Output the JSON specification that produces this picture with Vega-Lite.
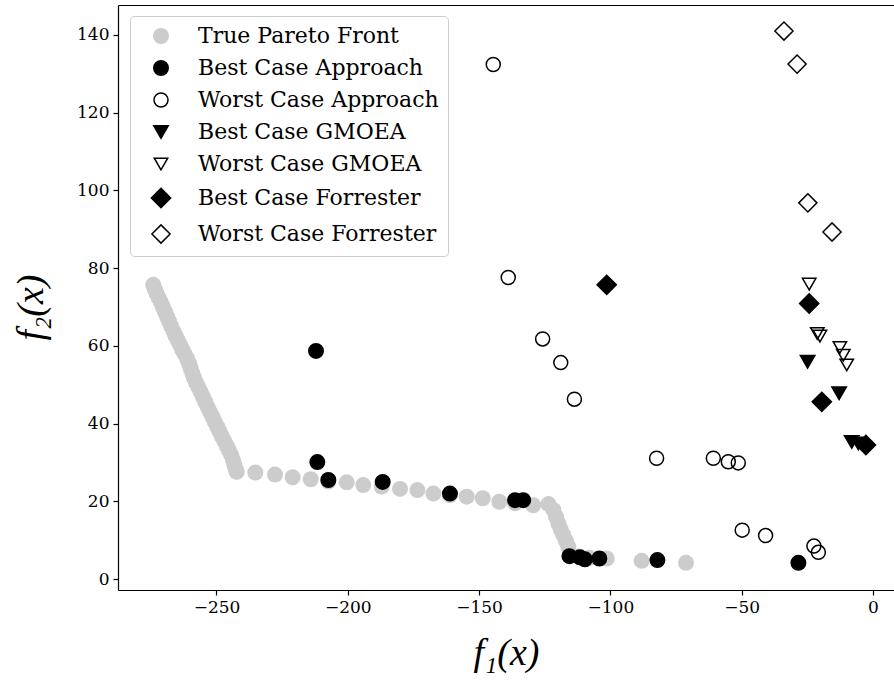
{
  "$schema": "https://vega.github.io/schema/vega-lite/v6.json",
  "width": 776,
  "height": 585,
  "autosize": {"type": "none"},
  "padding": {"left": 118, "top": 5, "right": 0, "bottom": 93},
  "background": "white",
  "config": {"view": {"stroke": null}},
  "datasets": {
    "pts": [
      {"series": "True Pareto Front", "f1": -274.1, "f2": 75.7},
      {"series": "True Pareto Front", "f1": -273.5, "f2": 74.6},
      {"series": "True Pareto Front", "f1": -272.8, "f2": 73.5},
      {"series": "True Pareto Front", "f1": -272.0, "f2": 72.3},
      {"series": "True Pareto Front", "f1": -271.2, "f2": 71.2},
      {"series": "True Pareto Front", "f1": -270.4, "f2": 70.0},
      {"series": "True Pareto Front", "f1": -269.6, "f2": 68.8},
      {"series": "True Pareto Front", "f1": -268.8, "f2": 67.5},
      {"series": "True Pareto Front", "f1": -268.0, "f2": 66.3},
      {"series": "True Pareto Front", "f1": -267.2, "f2": 65.0},
      {"series": "True Pareto Front", "f1": -266.4, "f2": 63.8},
      {"series": "True Pareto Front", "f1": -265.6, "f2": 62.6},
      {"series": "True Pareto Front", "f1": -264.7, "f2": 61.4},
      {"series": "True Pareto Front", "f1": -263.8, "f2": 60.2},
      {"series": "True Pareto Front", "f1": -263.0, "f2": 59.0},
      {"series": "True Pareto Front", "f1": -262.1, "f2": 57.9},
      {"series": "True Pareto Front", "f1": -261.2, "f2": 56.7},
      {"series": "True Pareto Front", "f1": -260.4, "f2": 55.5},
      {"series": "True Pareto Front", "f1": -259.8, "f2": 54.2},
      {"series": "True Pareto Front", "f1": -259.2, "f2": 53.0},
      {"series": "True Pareto Front", "f1": -258.6, "f2": 51.8},
      {"series": "True Pareto Front", "f1": -257.8, "f2": 50.6},
      {"series": "True Pareto Front", "f1": -256.9, "f2": 49.4},
      {"series": "True Pareto Front", "f1": -256.0, "f2": 48.1},
      {"series": "True Pareto Front", "f1": -255.1, "f2": 46.8},
      {"series": "True Pareto Front", "f1": -254.2, "f2": 45.5},
      {"series": "True Pareto Front", "f1": -253.3, "f2": 44.2},
      {"series": "True Pareto Front", "f1": -252.4, "f2": 42.9},
      {"series": "True Pareto Front", "f1": -251.5, "f2": 41.7},
      {"series": "True Pareto Front", "f1": -250.6, "f2": 40.4},
      {"series": "True Pareto Front", "f1": -249.7, "f2": 39.2},
      {"series": "True Pareto Front", "f1": -248.8, "f2": 38.0},
      {"series": "True Pareto Front", "f1": -247.9, "f2": 36.7},
      {"series": "True Pareto Front", "f1": -247.0, "f2": 35.5},
      {"series": "True Pareto Front", "f1": -246.1, "f2": 34.3},
      {"series": "True Pareto Front", "f1": -245.2, "f2": 33.1},
      {"series": "True Pareto Front", "f1": -244.4, "f2": 31.9},
      {"series": "True Pareto Front", "f1": -243.7, "f2": 30.6},
      {"series": "True Pareto Front", "f1": -243.2, "f2": 29.4},
      {"series": "True Pareto Front", "f1": -242.6, "f2": 28.2},
      {"series": "True Pareto Front", "f1": -242.3, "f2": 27.6},
      {"series": "True Pareto Front", "f1": -235.2, "f2": 27.4},
      {"series": "True Pareto Front", "f1": -227.7, "f2": 26.9},
      {"series": "True Pareto Front", "f1": -221.0, "f2": 26.2},
      {"series": "True Pareto Front", "f1": -214.1, "f2": 25.7},
      {"series": "True Pareto Front", "f1": -207.4, "f2": 25.1},
      {"series": "True Pareto Front", "f1": -200.4, "f2": 24.9},
      {"series": "True Pareto Front", "f1": -194.1, "f2": 24.2},
      {"series": "True Pareto Front", "f1": -187.1, "f2": 23.8},
      {"series": "True Pareto Front", "f1": -180.1, "f2": 23.2},
      {"series": "True Pareto Front", "f1": -173.5, "f2": 22.9},
      {"series": "True Pareto Front", "f1": -167.4, "f2": 22.0},
      {"series": "True Pareto Front", "f1": -161.1, "f2": 21.6},
      {"series": "True Pareto Front", "f1": -154.7, "f2": 21.2},
      {"series": "True Pareto Front", "f1": -148.6, "f2": 20.8},
      {"series": "True Pareto Front", "f1": -142.3, "f2": 19.9},
      {"series": "True Pareto Front", "f1": -136.3, "f2": 19.5},
      {"series": "True Pareto Front", "f1": -129.4, "f2": 19.0},
      {"series": "True Pareto Front", "f1": -123.6, "f2": 19.3},
      {"series": "True Pareto Front", "f1": -121.7, "f2": 17.8},
      {"series": "True Pareto Front", "f1": -120.7, "f2": 16.0},
      {"series": "True Pareto Front", "f1": -119.8, "f2": 14.3},
      {"series": "True Pareto Front", "f1": -118.9, "f2": 12.8},
      {"series": "True Pareto Front", "f1": -117.9, "f2": 11.3},
      {"series": "True Pareto Front", "f1": -116.9, "f2": 9.8},
      {"series": "True Pareto Front", "f1": -116.0, "f2": 8.3},
      {"series": "True Pareto Front", "f1": -115.4, "f2": 6.6},
      {"series": "True Pareto Front", "f1": -112.0, "f2": 5.8},
      {"series": "True Pareto Front", "f1": -108.0, "f2": 5.5},
      {"series": "True Pareto Front", "f1": -101.4, "f2": 5.3},
      {"series": "True Pareto Front", "f1": -88.1, "f2": 4.7},
      {"series": "True Pareto Front", "f1": -71.2, "f2": 4.2},
      {"series": "Best Case Approach", "f1": -212.1, "f2": 58.7},
      {"series": "Best Case Approach", "f1": -211.6, "f2": 30.1},
      {"series": "Best Case Approach", "f1": -207.4, "f2": 25.5},
      {"series": "Best Case Approach", "f1": -186.7, "f2": 25.0},
      {"series": "Best Case Approach", "f1": -161.1, "f2": 22.0},
      {"series": "Best Case Approach", "f1": -136.3, "f2": 20.3},
      {"series": "Best Case Approach", "f1": -133.2, "f2": 20.3},
      {"series": "Best Case Approach", "f1": -115.6, "f2": 5.9},
      {"series": "Best Case Approach", "f1": -111.6, "f2": 5.6},
      {"series": "Best Case Approach", "f1": -109.7, "f2": 5.1},
      {"series": "Best Case Approach", "f1": -104.2, "f2": 5.3},
      {"series": "Best Case Approach", "f1": -82.1, "f2": 4.9},
      {"series": "Best Case Approach", "f1": -28.4, "f2": 4.2},
      {"series": "Worst Case Approach", "f1": -144.6, "f2": 132.4},
      {"series": "Worst Case Approach", "f1": -138.9, "f2": 77.6},
      {"series": "Worst Case Approach", "f1": -125.8, "f2": 61.8},
      {"series": "Worst Case Approach", "f1": -118.9, "f2": 55.7},
      {"series": "Worst Case Approach", "f1": -113.7, "f2": 46.3},
      {"series": "Worst Case Approach", "f1": -82.4, "f2": 31.1},
      {"series": "Worst Case Approach", "f1": -60.8, "f2": 31.1},
      {"series": "Worst Case Approach", "f1": -55.1, "f2": 30.2},
      {"series": "Worst Case Approach", "f1": -51.3, "f2": 29.9},
      {"series": "Worst Case Approach", "f1": -49.8, "f2": 12.6},
      {"series": "Worst Case Approach", "f1": -40.9, "f2": 11.2},
      {"series": "Worst Case Approach", "f1": -22.5, "f2": 8.5},
      {"series": "Worst Case Approach", "f1": -20.8, "f2": 6.9},
      {"series": "Best Case GMOEA", "f1": -24.9, "f2": 55.9},
      {"series": "Best Case GMOEA", "f1": -12.9, "f2": 47.8},
      {"series": "Best Case GMOEA", "f1": -8.1, "f2": 35.3},
      {"series": "Best Case GMOEA", "f1": -5.6, "f2": 34.9},
      {"series": "Worst Case GMOEA", "f1": -24.3, "f2": 75.9},
      {"series": "Worst Case GMOEA", "f1": -21.2, "f2": 63.2},
      {"series": "Worst Case GMOEA", "f1": -20.2, "f2": 62.5},
      {"series": "Worst Case GMOEA", "f1": -12.6, "f2": 59.6},
      {"series": "Worst Case GMOEA", "f1": -11.3, "f2": 57.6},
      {"series": "Worst Case GMOEA", "f1": -10.0, "f2": 55.1},
      {"series": "Best Case Forrester", "f1": -101.4, "f2": 75.7},
      {"series": "Best Case Forrester", "f1": -24.3, "f2": 70.9},
      {"series": "Best Case Forrester", "f1": -19.5, "f2": 45.6},
      {"series": "Best Case Forrester", "f1": -2.7, "f2": 34.5},
      {"series": "Worst Case Forrester", "f1": -33.9, "f2": 141.0},
      {"series": "Worst Case Forrester", "f1": -28.9, "f2": 132.5},
      {"series": "Worst Case Forrester", "f1": -24.8, "f2": 96.8},
      {"series": "Worst Case Forrester", "f1": -15.6, "f2": 89.3}
    ]
  },
  "data": {"name": "pts"},
  "layer": [
    {
      "mark": {"type": "point", "strokeWidth": 1.5, "opacity": 1},
      "encoding": {
        "x": {
          "field": "f1", "type": "quantitative",
          "scale": {"domain": [-287.5, 8.0], "nice": false, "zero": false},
          "axis": {
            "values": [-250, -200, -150, -100, -50, 0],
            "grid": false, "labelFlush": false,
            "domainColor": "black", "domainWidth": 1.2,
            "tickColor": "black", "tickWidth": 1.2, "tickSize": 5,
            "labelFont": "DejaVu Serif", "labelFontSize": 17, "labelColor": "black", "labelPadding": 4,
            "title": "f₁(x)", "titleFont": "Liberation Serif", "titleFontStyle": "italic",
            "titleFontWeight": "normal", "titleFontSize": 38, "titleColor": "black", "titlePadding": 19
          }
        },
        "y": {
          "field": "f2", "type": "quantitative",
          "scale": {"domain": [-2.8, 147.7], "nice": false, "zero": false},
          "axis": {
            "values": [0, 20, 40, 60, 80, 100, 120, 140],
            "grid": false,
            "domainColor": "black", "domainWidth": 1.2,
            "tickColor": "black", "tickWidth": 1.2, "tickSize": 5,
            "labelFont": "DejaVu Serif", "labelFontSize": 17, "labelColor": "black", "labelPadding": 4,
            "title": "f₂(x)", "titleFont": "Liberation Serif", "titleFontStyle": "italic",
            "titleFontWeight": "normal", "titleFontSize": 38, "titleColor": "black", "titlePadding": 26,
            "titleY": 302
          }
        },
        "shape": {
          "field": "series", "type": "nominal",
          "scale": {
            "domain": ["True Pareto Front", "Best Case Approach", "Worst Case Approach", "Best Case GMOEA", "Worst Case GMOEA", "Best Case Forrester", "Worst Case Forrester"],
            "range": ["circle", "circle", "circle", "triangle-down", "triangle-down", "diamond", "diamond"]
          },
          "legend": {
            "title": null, "orient": "none", "legendX": 12, "legendY": 11,
            "fillColor": "white", "strokeColor": "#cccccc", "cornerRadius": 4, "padding": 9,
            "labelFont": "DejaVu Serif", "labelFontSize": 22, "labelColor": "black",
            "rowPadding": 10, "symbolOffset": 11, "labelOffset": 26, "symbolStrokeWidth": 1.5,
            "labelLimit": 400
          }
        },
        "fill": {
          "field": "series", "type": "nominal",
          "scale": {
            "domain": ["True Pareto Front", "Best Case Approach", "Worst Case Approach", "Best Case GMOEA", "Worst Case GMOEA", "Best Case Forrester", "Worst Case Forrester"],
            "range": ["#cccccc", "black", "transparent", "black", "transparent", "black", "transparent"]
          }
        },
        "stroke": {
          "field": "series", "type": "nominal",
          "scale": {
            "domain": ["True Pareto Front", "Best Case Approach", "Worst Case Approach", "Best Case GMOEA", "Worst Case GMOEA", "Best Case Forrester", "Worst Case Forrester"],
            "range": ["transparent", "black", "black", "black", "black", "black", "black"]
          }
        },
        "size": {
          "field": "series", "type": "nominal",
          "scale": {
            "type": "ordinal",
            "domain": ["True Pareto Front", "Best Case Approach", "Worst Case Approach", "Best Case GMOEA", "Worst Case GMOEA", "Best Case Forrester", "Worst Case Forrester"],
            "range": [256, 210, 196, 210, 180, 370, 330]
          }
        }
      }
    },
    {
      "mark": {"type": "point", "opacity": 0},
      "encoding": {
        "x": {
          "field": "f1", "type": "quantitative",
          "axis": {"orient": "top", "labels": false, "ticks": false, "title": null, "grid": false, "domainColor": "black", "domainWidth": 1.2}
        }
      }
    }
  ],
  "resolve": {"axis": {"x": "independent"}}
}
